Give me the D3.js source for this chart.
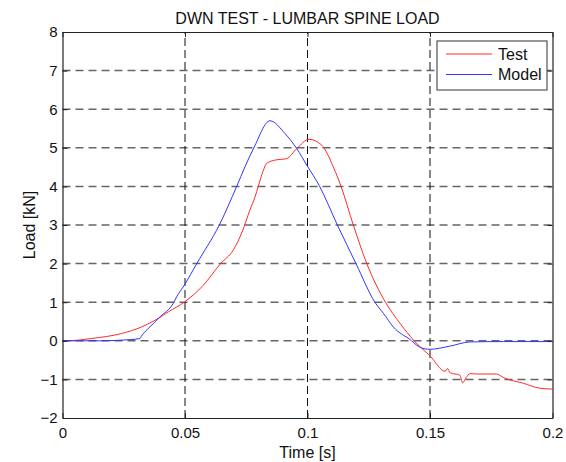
<!DOCTYPE html>
<html>
<head>
<meta charset="utf-8">
<script src="https://cdn.jsdelivr.net/npm/d3@7"></script>
<style>
  html, body { margin: 0; padding: 0; background: #fff; }
  svg { display: block; font-family: "Liberation Sans", Arial, sans-serif; }
</style>
</head>
<body>
<svg id="chart" width="566" height="462"></svg>
<script>
// Measured lumbar spine load (Test) and simulated load (Model), in kN over time in s
const testTime = [0, 0.005, 0.0119, 0.0242, 0.0323, 0.0391, 0.0432, 0.0497, 0.0575, 0.0645, 0.0697, 0.0733,
  0.0765, 0.0786, 0.0799, 0.082, 0.0834, 0.0867, 0.0915, 0.0956, 0.1006, 0.1058, 0.1105, 0.1137, 0.1187,
  0.1242, 0.1318, 0.1378, 0.1435, 0.15, 0.1562, 0.1572, 0.1582, 0.1622, 0.1633, 0.1648, 0.1663, 0.169,
  0.1772, 0.1799, 0.1881, 0.1949, 0.2];
const testLoad = [0, 0.01, 0.06, 0.19, 0.36, 0.58, 0.75, 1.0, 1.44, 2.0, 2.35, 2.82,
  3.39, 3.73, 4.0, 4.42, 4.6, 4.68, 4.72, 4.98, 5.22, 5.07, 4.51, 4.0, 3.0,
  2.0, 1.0, 0.45, 0, -0.39, -0.79, -0.72, -0.83, -0.89, -1.09, -0.95, -0.85, -0.86,
  -0.86, -0.95, -1.1, -1.23, -1.25];

const modelTime = [0, 0.015, 0.0276, 0.0316, 0.0322, 0.0357, 0.0398, 0.0452, 0.0466, 0.0497, 0.0548,
  0.064, 0.0711, 0.0745, 0.0781, 0.0847, 0.0908, 0.0956, 0.0997, 0.1048, 0.1122, 0.1198, 0.1275, 0.131,
  0.135, 0.1425, 0.1445, 0.148, 0.15, 0.158, 0.1663, 0.18, 0.2];
const modelLoad = [0, 0, 0.03, 0.06, 0.12, 0.36, 0.62, 0.97, 1.14, 1.44, 2.0,
  3.0, 4.0, 4.51, 5.0, 5.7, 5.37, 4.98, 4.55, 4.02, 3.0, 2.0, 1.0, 0.71,
  0.36, 0, -0.11, -0.21, -0.22, -0.14, -0.03, -0.02, -0.02];

const xTicks = [0, 0.05, 0.1, 0.15, 0.2];
const xTickLabels = ["0", "0.05", "0.1", "0.15", "0.2"];
const yTicks = [-2, -1, 0, 1, 2, 3, 4, 5, 6, 7, 8];

const seriesNames = ["Test", "Model"];
const seriesColors = ["#ff2a2a", "#3333ff"];

const svg = d3.select("#chart");
const plotLeft = 62.5, plotRight = 552.5, plotTop = 32, plotBottom = 418;

const x = d3.scaleLinear().domain([0, 0.2]).range([plotLeft, plotRight]);
const y = d3.scaleLinear().domain([-2, 8]).range([plotBottom, plotTop]);

svg.append("rect").attr("width", 566).attr("height", 462).attr("fill", "#fff");

// Grid
const grid = svg.append("g");
grid.selectAll("line.h").data(yTicks.filter(v => v > -2 && v < 8)).join("line")
  .attr("x1", plotLeft).attr("x2", plotRight)
  .attr("y1", d => y(d)).attr("y2", d => y(d))
  .attr("stroke", "#666").attr("stroke-width", 1.5).attr("stroke-dasharray", "8,5");
grid.selectAll("line.v").data(xTicks.filter(v => v > 0 && v < 0.2)).join("line")
  .attr("y1", plotBottom).attr("y2", plotTop)
  .attr("x1", d => x(d)).attr("x2", d => x(d))
  .attr("stroke", "#111").attr("stroke-width", 1).attr("stroke-dasharray", "8,4");

// Curves
const line = d3.line().x(d => x(d[0])).y(d => y(d[1])).curve(d3.curveMonotoneX);
const testData = testTime.map((t, i) => [t, testLoad[i]]);
const modelData = modelTime.map((t, i) => [t, modelLoad[i]]);
svg.append("path").datum(testData).attr("d", line)
  .attr("fill", "none").attr("stroke", seriesColors[0]).attr("stroke-width", 1);
svg.append("path").datum(modelData).attr("d", line)
  .attr("fill", "none").attr("stroke", seriesColors[1]).attr("stroke-width", 1);

// Axes with inward ticks on all four sides
const fs = "15px";
const xb = svg.append("g").attr("transform", `translate(0,${plotBottom})`)
  .call(d3.axisBottom(x).tickValues(xTicks).tickFormat((d, i) => xTickLabels[i])
    .tickSizeInner(-5).tickSizeOuter(0).tickPadding(9));
const xt = svg.append("g").attr("transform", `translate(0,${plotTop})`)
  .call(d3.axisTop(x).tickValues(xTicks).tickFormat("").tickSizeInner(-5).tickSizeOuter(0));
const yl = svg.append("g").attr("transform", `translate(${plotLeft},0)`)
  .call(d3.axisLeft(y).tickValues(yTicks).tickFormat(d3.format("d"))
    .tickSizeInner(-5).tickSizeOuter(0).tickPadding(5));
const yr = svg.append("g").attr("transform", `translate(${plotRight},0)`)
  .call(d3.axisRight(y).tickValues(yTicks).tickFormat("").tickSizeInner(-5).tickSizeOuter(0));
[xb, xt, yl, yr].forEach(g => {
  g.selectAll(".domain").attr("stroke", "#222").attr("stroke-width", 1.2);
  g.selectAll(".tick line").attr("stroke", "#222");
  g.selectAll("text").attr("fill", "#111").style("font-size", fs)
    .style("font-family", '"Liberation Sans", Arial, sans-serif');
});

// Titles
svg.append("text").attr("x", (plotLeft + plotRight) / 2).attr("y", 24)
  .attr("text-anchor", "middle").style("font-size", "16px").attr("fill", "#111")
  .text("DWN TEST - LUMBAR SPINE LOAD");
svg.append("text").attr("x", (plotLeft + plotRight) / 2).attr("y", 458)
  .attr("text-anchor", "middle").style("font-size", "16px").attr("fill", "#111")
  .text("Time [s]");
svg.append("text").attr("transform", `translate(35,${(plotTop + plotBottom) / 2}) rotate(-90)`)
  .attr("text-anchor", "middle").style("font-size", "16px").attr("fill", "#111")
  .text("Load [kN]");

// Legend
const lg = svg.append("g");
lg.append("rect").attr("x", 437).attr("y", 41).attr("width", 110).attr("height", 49)
  .attr("fill", "#fff").attr("stroke", "#333").attr("stroke-width", 1);
seriesNames.forEach((name, i) => {
  const ly = 54 + i * 20.5;
  lg.append("line").attr("x1", 446).attr("x2", 492).attr("y1", ly).attr("y2", ly)
    .attr("stroke", seriesColors[i]).attr("stroke-width", 1);
  lg.append("text").attr("x", 498).attr("y", ly).attr("dy", "0.35em")
    .style("font-size", "16px").attr("fill", "#111").text(name);
});
</script>
</body>
</html>
